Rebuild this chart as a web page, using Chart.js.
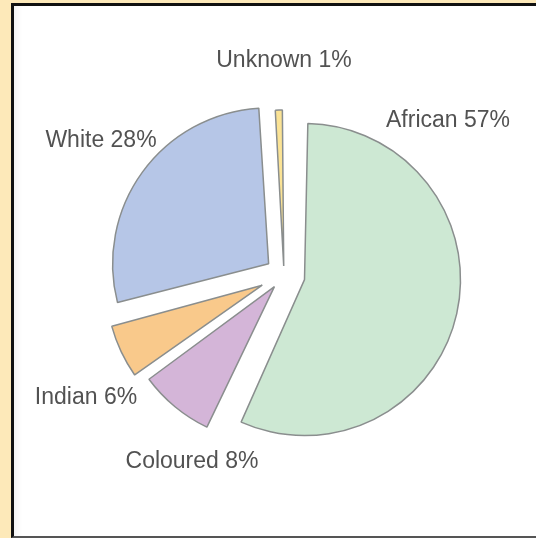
<!DOCTYPE html>
<html>
<head>
<meta charset="utf-8">
<title>Population by group</title>
<script src="https://cdn.jsdelivr.net/npm/chart.js@4"></script>
<style>
  html, body { margin: 0; padding: 0; width: 536px; height: 538px; overflow: hidden; background: #fde9b9; }
  .frame {
    position: absolute; left: 11px; top: 3px; width: 600px; height: 530px;
    background: #fff;
    border-left: 3px solid #111; border-top: 3px solid #111; border-bottom: 2px solid #555;
    box-shadow: inset 9px 0 8px -8px rgba(0,0,0,0.08);
  }
  #pie { position: absolute; left: 0; top: 0; }
</style>
</head>
<body>
<div class="frame"></div>
<canvas id="pie" width="536" height="538"></canvas>
<script>
// data
const categories = ['African', 'Coloured', 'Indian', 'White', 'Unknown'];
const shares = [57, 8, 6, 28, 1];

// exploded distance of each slice (px) and where its caption sits, relative to the pie centre
const pullOut = [21, 15, 24, 19, 9];
const captionAt = [[164, -148], [-92, 193], [-198, 129], [-183, -128], [0, -208]];
const PIE_RADIUS = 156;

// v4 arcs grow by offset*fix when exploded; undo it so every slice keeps the same radius
const evenRadius = {
  id: 'evenRadius',
  afterDatasetsUpdate(chart) {
    chart.getDatasetMeta(0).data.forEach(arc => {
      const d = (arc.options.offset || 0) / 4;
      const fix = 1 - Math.sin(Math.min(Math.PI, arc.circumference));
      arc.outerRadius = PIE_RADIUS - d * fix;
    });
  }
};

const sliceCaptions = {
  id: 'sliceCaptions',
  afterDraw(chart) {
    const meta = chart.getDatasetMeta(0);
    const cx = meta.data[0].x, cy = meta.data[0].y;
    const ctx = chart.ctx;
    ctx.save();
    ctx.font = '23px "Liberation Sans", Arial, sans-serif';
    ctx.fillStyle = '#525252';
    ctx.textAlign = 'center';
    ctx.textBaseline = 'alphabetic';
    categories.forEach((name, i) => {
      ctx.fillText(name + ' ' + shares[i] + '%', cx + captionAt[i][0], cy + captionAt[i][1]);
    });
    ctx.restore();
  }
};

new Chart(document.getElementById('pie'), {
  type: 'pie',
  data: {
    labels: categories,
    datasets: [{
      data: shares,
      backgroundColor: ['#cde8d3', '#d4b5d8', '#f9c98b', '#b6c6e7', '#fbe395'],
      borderColor: '#8a8e8e',
      borderWidth: 1.5,
      offset: pullOut.map(d => d * 4),
      radius: PIE_RADIUS
    }]
  },
  options: {
    responsive: false,
    animation: false,
    events: [],
    devicePixelRatio: 1,
    layout: { padding: { left: 32, top: 12, right: 0, bottom: 0 } },
    plugins: {
      legend: { display: false },
      tooltip: { enabled: false }
    }
  },
  plugins: [evenRadius, sliceCaptions]
});
</script>
</body>
</html>
